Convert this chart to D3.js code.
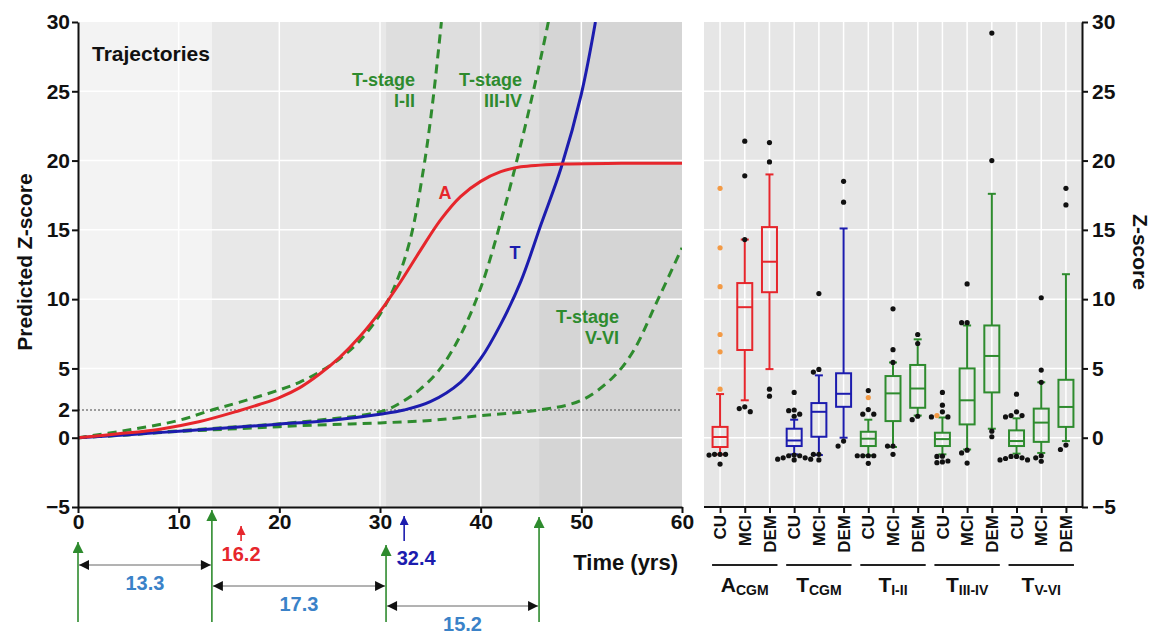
<!DOCTYPE html>
<html>
<head>
<meta charset="utf-8">
<title>trajectories</title>
<script src="https://d3js.org/d3.v7.min.js"></script>
<style>
  body { margin: 0; background: #fff; }
  svg { font-family: "Liberation Sans", Arial, sans-serif; font-weight: bold; }
</style>
</head>
<body>
<svg width="1153" height="636"></svg>
<script>
// ---------- left panel data: [time (yrs), predicted z-score] ----------
var curveA = [[0,0],[4,0.28],[8,0.6],[12,1.15],[16,1.95],[18,2.4],[20,2.9],[22,3.6],[24,4.6],[26,5.8],
              [28,7.3],[30,9.1],[32,11.2],[34,13.5],[36,15.7],[38,17.4],[40,18.5],[42,19.2],[44,19.55],
              [48,19.75],[54,19.8],[60,19.8]];
var curveT = [[0,0],[5,0.22],[10,0.47],[15,0.72],[20,0.98],[25,1.25],[30,1.7],[32.4,2],[35,2.6],
              [38,4.0],[40,5.7],[42,8.2],[44,11.3],[46,15.4],[48,19.5],[50,24.8],[51.4,30]];
var stageI_II = [[0,0],[5,0.55],[10,1.25],[13.3,2],[16,2.55],[20,3.45],[22,4.0],[24,4.75],[26,5.7],
                 [28,7.0],[30,8.9],[31.5,11.0],[33,14.3],[34.3,19.3],[35.2,24],[36.1,30]];
var stageIII_IV = [[0,0],[5,0.22],[10,0.5],[15,0.75],[20,1.0],[25,1.35],[28,1.6],[30.6,2],[32,2.5],
                   [34,3.5],[36,5.0],[38,7.4],[40,10.8],[42,15.6],[44,21.2],[46,27.5],[47,31]];
var stageV_VI = [[0,0],[5,0.22],[10,0.45],[15,0.62],[20,0.8],[25,0.95],[30,1.07],[35,1.25],[40,1.6],
                 [45.8,2],[50,2.7],[53.2,4.4],[55.2,6.3],[57.5,9.8],[60,13.7]];

var timeTicks = [0,10,20,30,40,50,60];
var zTicksLeft = [-5,0,2,5,10,15,20,25,30];
var zTicksRight = [-5,0,5,10,15,20,25,30];
var stageOnsets = [0,13.3,30.6,45.8];   // green arrows, band edges
var stageGaps = [13.3,17.3,15.2];
var onsetA = 16.2, onsetT = 32.4;

// ---------- right panel data: box plots ----------
var boxCats = ["CU","MCI","DEM","CU","MCI","DEM","CU","MCI","DEM","CU","MCI","DEM","CU","MCI","DEM"];
var groupMain = ["A","T","T","T","T"];
var groupSub = ["CGM","CGM","I-II","III-IV","V-VI"];
var boxQ1  = [-0.67, 6.33, 10.5, -0.6, 0.07, 2.23, -0.6, 1.2, 2.16, -0.6, 0.96, 3.27, -0.6, -0.3, 0.78];
var boxMed = [ 0.05, 9.42, 12.7, -0.2, 1.87, 3.17, -0.07, 3.2, 3.55, -0.1, 2.7, 5.9, -0.24, 1.09, 2.22];
var boxQ3  = [ 0.78, 11.16, 15.2, 0.65, 2.5, 4.65, 0.43, 4.45, 5.25, 0.36, 5.0, 8.1, 0.53, 2.1, 4.18];
var whiskLo = [-1.2, 2.7, 4.95, -1.2, -1.25, 0.0, -1.28, -0.67, 1.6, -1.2, -0.85, 0.65, -1.15, -1.1, -0.24];
var whiskHi = [3.15, 14.3, 19.0, 1.3, 4.5, 15.1, 1.3, 5.43, 7.1, 1.46, 8.1, 17.6, 1.4, 4.0, 11.8];
var outBlack = [
  [0,-1.2],[0,-1.2],[0,-1.25],[0,-1.2],[0,-1.9],
  [1,21.4],[1,18.9],[1,14.3],[1,2.23],[1,1.88],[1,2.1],
  [2,21.3],[2,19.9],[2,3.5],[2,3.0],
  [3,3.27],[3,2.0],[3,1.95],[3,1.7],[3,1.55],[3,-1.25],[3,-1.3],[3,-1.45],[3,-1.55],[3,-1.6],[3,-1.55],[3,-1.45],[3,-1.3],
  [4,10.4],[4,4.93],[4,4.74],[4,-1.2],[4,-1.2],[4,-1.6],
  [5,18.5],[5,17.0],[5,-0.24],[5,-0.6],
  [6,3.4],[6,2.03],[6,1.7],[6,1.7],[6,-1.3],[6,-1.3],[6,-1.3],[6,-1.3],[6,-1.85],
  [7,9.3],[7,6.35],[7,5.43],[7,-0.6],[7,-0.6],[7,-1.2],
  [8,7.45],[8,6.8],[8,1.3],[8,1.55],
  [9,3.27],[9,2.35],[9,1.87],[9,1.5],[9,1.5],[9,-1.33],[9,-1.35],[9,-1.68],[9,-1.8],[9,-1.75],
  [10,11.1],[10,8.3],[10,8.3],[10,-0.9],[10,-1.1],[10,-1.83],
  [11,29.2],[11,20.0],[11,0.47],[11,0.07],
  [12,3.14],[12,1.87],[12,1.6],[12,1.6],[12,1.5],[12,-1.35],[12,-1.5],[12,-1.6],[12,-1.6],[12,-1.45],[12,-1.35],
  [13,10.1],[13,4.88],[13,4.0],[13,-1.3],[13,-1.45],[13,-1.7],
  [14,18.0],[14,16.8],[14,-0.53],[14,-0.85]
];
var outOrange = [[0,18.0],[0,13.7],[0,10.9],[0,7.45],[0,6.2],[0,3.5],[6,2.9],[9,1.6]];

// ---------- styles ----------
var cRed = "#e6262c", cBlue = "#1c1cae", cGreen = "#2e8b2e", cNum = "#3a82c8";
var groupColor = [cRed, cBlue, cGreen, cGreen, cGreen];
var bandFill = ["#f3f3f3", "#e8e8e8", "#dedede", "#d5d5d5"];

var svg = d3.select("svg");
var x = d3.scaleLinear().domain([0,60]).range([78,682]);
var y = d3.scaleLinear().domain([-5,30]).range([507,22]);

// markers
var defs = svg.append("defs");
function marker(id, color, w, h) {
  defs.append("marker").attr("id", id).attr("markerUnits", "userSpaceOnUse")
    .attr("viewBox", "0 -5 10 10").attr("refX", 10).attr("refY", 0)
    .attr("markerWidth", w).attr("markerHeight", h).attr("orient", "auto-start-reverse")
    .append("path").attr("d", "M0,-5L10,0L0,5Z").attr("fill", color);
}
marker("hGreen", cGreen, 13, 11);
marker("hRed", cRed, 11, 9);
marker("hBlue", cBlue, 11, 9);
marker("hBlack", "#111", 13, 10);
defs.append("clipPath").attr("id", "plotClip").append("rect")
  .attr("x", x(0)).attr("y", y(30)).attr("width", x(60) - x(0)).attr("height", y(-5) - y(30));

// ---------- left panel ----------
var left = svg.append("g");
var bandEdges = stageOnsets.concat([60]);
left.selectAll("rect.band").data(stageOnsets).enter().append("rect")
  .attr("x", function(d){ return x(d); }).attr("y", y(30))
  .attr("width", function(d,i){ return x(bandEdges[i+1]) - x(d); })
  .attr("height", y(-5) - y(30))
  .attr("fill", function(d,i){ return bandFill[i]; });

left.selectAll("line.vg").data([10,20,30,40,50]).enter().append("line")
  .attr("x1", x).attr("x2", x).attr("y1", y(30)).attr("y2", y(-5))
  .attr("stroke", "#fff").attr("stroke-width", 1.5);
left.selectAll("line.hg").data([0,5,10,15,20,25]).enter().append("line")
  .attr("x1", x(0)).attr("x2", x(60)).attr("y1", y).attr("y2", y)
  .attr("stroke", "#fff").attr("stroke-width", 1.5);
left.append("line").attr("x1", x(0)).attr("x2", x(60)).attr("y1", y(2)).attr("y2", y(2))
  .attr("stroke", "#444").attr("stroke-width", 1).attr("stroke-dasharray", "2,2");

var line = d3.line().x(function(d){ return x(d[0]); }).y(function(d){ return y(d[1]); })
  .curve(d3.curveCatmullRom.alpha(0.5));
var curves = left.append("g").attr("clip-path", "url(#plotClip)");
[stageV_VI, stageIII_IV, stageI_II].forEach(function(c){
  curves.append("path").attr("d", line(c)).attr("fill", "none").attr("stroke", cGreen)
    .attr("stroke-width", 3).attr("stroke-dasharray", "9,6");
});
curves.append("path").attr("d", line(curveT)).attr("fill", "none").attr("stroke", cBlue).attr("stroke-width", 3);
curves.append("path").attr("d", line(curveA)).attr("fill", "none").attr("stroke", cRed).attr("stroke-width", 3);

// axes
var xAxis = left.append("g").attr("transform", "translate(0," + y(-5) + ")")
  .call(d3.axisBottom(x).tickValues(timeTicks).tickSize(6).tickSizeOuter(0).tickPadding(1));
var yAxis = left.append("g").attr("transform", "translate(" + x(0) + ",0)")
  .call(d3.axisLeft(y).tickValues(zTicksLeft).tickSize(6).tickSizeOuter(0).tickPadding(2));
[xAxis, yAxis].forEach(function(a){
  a.select(".domain").attr("stroke", "#111").attr("stroke-width", 2);
  a.selectAll(".tick line").attr("stroke", "#111").attr("stroke-width", 2);
  a.selectAll(".tick text").attr("fill", "#111").style("font-size", "21px")
    .style("font-family", "Liberation Sans, Arial, sans-serif").style("font-weight", "bold");
});

left.append("text").attr("transform", "translate(32,262) rotate(-90)").attr("text-anchor", "middle")
  .style("font-size", "21px").attr("fill", "#111").text("Predicted Z-score");
left.append("text").attr("x", 92).attr("y", 61).style("font-size", "21px").attr("fill", "#111").text("Trajectories");
left.append("text").attr("x", 678).attr("y", 570).attr("text-anchor", "end")
  .style("font-size", "22px").attr("fill", "#111").text("Time (yrs)");

// curve labels
var stageLabels = [["I-II", 415, 86], ["III-IV", 522, 86], ["V-VI", 619, 323]];
stageLabels.forEach(function(s){
  var t = left.append("text").attr("text-anchor", "end").attr("fill", cGreen).style("font-size", "18px");
  t.append("tspan").attr("x", s[1]).attr("y", s[2]).text("T-stage");
  t.append("tspan").attr("x", s[1]).attr("y", s[2] + 21).text(s[0]);
});
left.append("text").attr("x", 445).attr("y", 199).attr("text-anchor", "middle").attr("fill", cRed)
  .style("font-size", "18px").text("A");
left.append("text").attr("x", 515).attr("y", 259).attr("text-anchor", "middle").attr("fill", cBlue)
  .style("font-size", "18px").text("T");

// onset arrows below the axis
var onsetArrowTop = [542, 510, 545, 517];
left.selectAll("line.onset").data(stageOnsets).enter().append("line")
  .attr("x1", x).attr("x2", x).attr("y1", 622)
  .attr("y2", function(d,i){ return onsetArrowTop[i]; })
  .attr("stroke", cGreen).attr("stroke-width", 1.6).attr("marker-end", "url(#hGreen)");
left.append("line").attr("x1", x(onsetA)).attr("x2", x(onsetA)).attr("y1", 541).attr("y2", 526)
  .attr("stroke", cRed).attr("stroke-width", 1.6).attr("marker-end", "url(#hRed)");
left.append("text").attr("x", x(onsetA)).attr("y", 561).attr("text-anchor", "middle")
  .attr("fill", cRed).style("font-size", "20px").text(onsetA.toFixed(1));
left.append("line").attr("x1", x(onsetT)).attr("x2", x(onsetT)).attr("y1", 541).attr("y2", 516)
  .attr("stroke", cBlue).attr("stroke-width", 1.6).attr("marker-end", "url(#hBlue)");
left.append("text").attr("x", x(onsetT) + 12).attr("y", 565).attr("text-anchor", "middle")
  .attr("fill", cBlue).style("font-size", "20px").text(onsetT.toFixed(1));

var gapRowY = [565, 586, 606];
stageGaps.forEach(function(g, i){
  var a = stageOnsets[i], b = stageOnsets[i+1];
  left.append("line").attr("x1", x(a) + 1).attr("x2", x(b) - 1).attr("y1", gapRowY[i]).attr("y2", gapRowY[i])
    .attr("stroke", "#666").attr("stroke-width", 1)
    .attr("marker-start", "url(#hBlack)").attr("marker-end", "url(#hBlack)");
  left.append("text").attr("x", (x(a) + x(b)) / 2).attr("y", gapRowY[i] + 25).attr("text-anchor", "middle")
    .attr("fill", cNum).style("font-size", "20px").text(g.toFixed(1));
});

// ---------- right panel ----------
var right = svg.append("g");
var xb = d3.scalePoint().domain(d3.range(boxCats.length)).range([704, 1082]).padding(0.65);
var bx0 = 704, bx1 = 1082;
right.append("rect").attr("x", bx0).attr("y", y(30)).attr("width", bx1 - bx0).attr("height", y(-5) - y(30))
  .attr("fill", "#e6e6e6");
right.selectAll("line.hg").data([0,5,10,15,20,25]).enter().append("line")
  .attr("x1", bx0).attr("x2", bx1).attr("y1", y).attr("y2", y).attr("stroke", "#fff").attr("stroke-width", 1.5);
right.selectAll("line.vg").data(d3.range(boxCats.length)).enter().append("line")
  .attr("x1", xb).attr("x2", xb).attr("y1", y(30)).attr("y2", y(-5)).attr("stroke", "#fff").attr("stroke-width", 1.5);

var bw = 15, cw = 8;
d3.range(boxCats.length).forEach(function(i){
  var cx = xb(i), col = groupColor[Math.floor(i / 3)];
  var g = right.append("g").attr("stroke", col).attr("stroke-width", 2).attr("fill", "none");
  g.append("line").attr("x1", cx).attr("x2", cx).attr("y1", y(whiskHi[i])).attr("y2", y(boxQ3[i]));
  g.append("line").attr("x1", cx).attr("x2", cx).attr("y1", y(boxQ1[i])).attr("y2", y(whiskLo[i]));
  g.append("line").attr("x1", cx - cw/2).attr("x2", cx + cw/2).attr("y1", y(whiskHi[i])).attr("y2", y(whiskHi[i]));
  g.append("line").attr("x1", cx - cw/2).attr("x2", cx + cw/2).attr("y1", y(whiskLo[i])).attr("y2", y(whiskLo[i]));
  g.append("rect").attr("x", cx - bw/2).attr("width", bw)
    .attr("y", y(boxQ3[i])).attr("height", y(boxQ1[i]) - y(boxQ3[i]));
  g.append("line").attr("x1", cx - bw/2).attr("x2", cx + bw/2).attr("y1", y(boxMed[i])).attr("y2", y(boxMed[i]));
});

// outliers, spread sideways where they overlap
var pts = outBlack.map(function(d){ return {c: d[0], v: d[1], col: "#111"}; })
  .concat(outOrange.map(function(d){ return {c: d[0], v: d[1], col: "#f39a45"}; }));
var placed = [];
pts.sort(function(a, b){ return b.v - a.v; }).forEach(function(p){
  var py = y(p.v), offs = [0, -5.5, 5.5, -11, 11, -16.5, 16.5], dx = 0;
  for (var k = 0; k < offs.length; k++) {
    var ok = placed.every(function(q){
      return q.c !== p.c || Math.hypot(q.dx - offs[k], q.py - py) >= 5.2;
    });
    if (ok) { dx = offs[k]; break; }
  }
  p.dx = dx; p.py = py; placed.push(p);
});
right.selectAll("circle.out").data(placed).enter().append("circle")
  .attr("cx", function(d){ return xb(d.c) + d.dx; }).attr("cy", function(d){ return d.py; })
  .attr("r", 2.6).attr("fill", function(d){ return d.col; });

var rAxis = right.append("g").attr("transform", "translate(" + bx1 + ",0)")
  .call(d3.axisRight(y).tickValues(zTicksRight).tickSize(6).tickSizeOuter(0).tickPadding(4));
var bAxis = right.append("g").attr("transform", "translate(0," + y(-5) + ")")
  .call(d3.axisBottom(xb).tickSize(6).tickSizeOuter(0).tickFormat(""));
bAxis.select(".domain").attr("d", "M" + bx0 + ",0H" + bx1);
[rAxis, bAxis].forEach(function(a){
  a.select(".domain").attr("stroke", "#111").attr("stroke-width", 2);
  a.selectAll(".tick line").attr("stroke", "#111").attr("stroke-width", 2);
  a.selectAll(".tick text").attr("fill", "#111").style("font-size", "21px")
    .style("font-family", "Liberation Sans, Arial, sans-serif").style("font-weight", "bold");
});

right.selectAll("text.cat").data(boxCats).enter().append("text")
  .attr("transform", function(d, i){ return "translate(" + xb(i) + ",515) rotate(-90)"; })
  .attr("dy", "0.36em").attr("text-anchor", "end").attr("fill", "#111").style("font-size", "17px")
  .text(function(d){ return d; });

groupMain.forEach(function(m, gi){
  var xa = xb(gi * 3), xc = xb(gi * 3 + 2);
  right.append("line").attr("x1", xa - 8).attr("x2", xc + 8).attr("y1", 565).attr("y2", 565)
    .attr("stroke", "#222").attr("stroke-width", 2);
  var t = right.append("text").attr("x", (xa + xc) / 2).attr("y", 592).attr("text-anchor", "middle")
    .attr("fill", "#111").style("font-size", "21px");
  t.append("tspan").text(m);
  t.append("tspan").attr("dy", 3).style("font-size", "14px").text(groupSub[gi]);
});

right.append("text").attr("transform", "translate(1133,252) rotate(90)").attr("text-anchor", "middle")
  .style("font-size", "21px").attr("fill", "#111").text("Z-score");
</script>
</body>
</html>
